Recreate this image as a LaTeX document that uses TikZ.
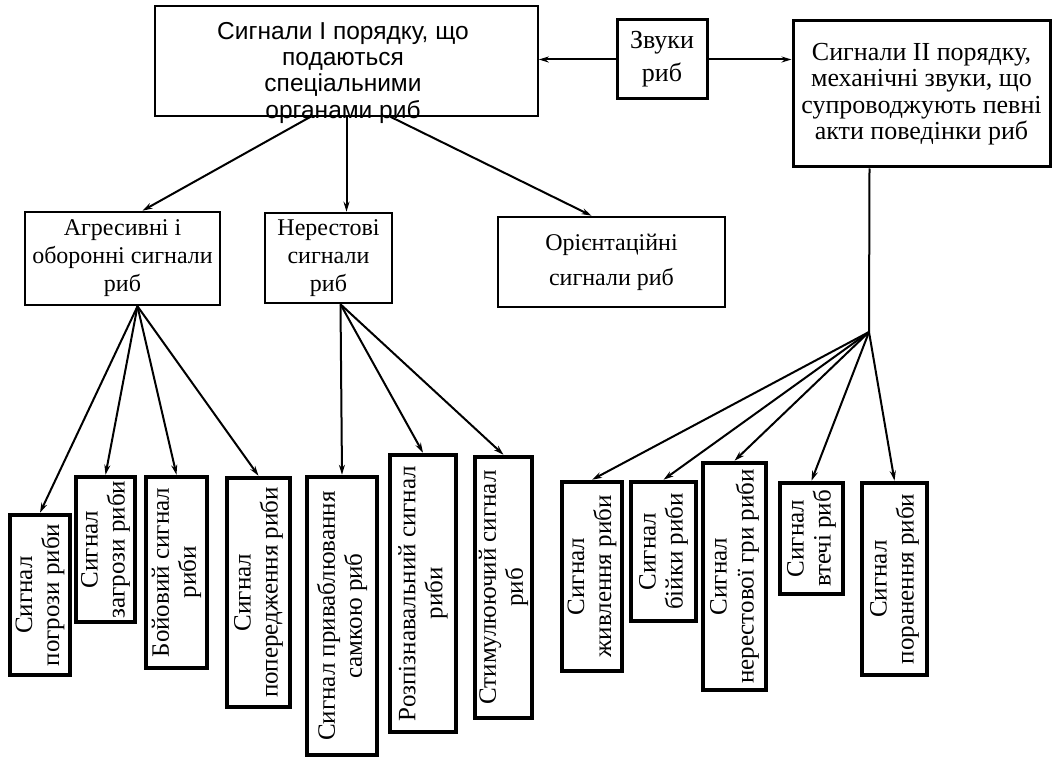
\documentclass[tikz,border=0pt]{standalone}
\usepackage{fontspec}
\usetikzlibrary{arrows.meta,calc}
\newfontfamily\typefont{Liberation Serif}
\newfontfamily\headfont{Liberation Sans}

\tikzset{
  thinbox/.style={draw, line width=1.6pt, inner sep=0pt},
  midbox/.style={draw, line width=2.6pt, inner sep=0pt, align=center,
    font=\typefont\fontsize{24}{28}\selectfont},
  sigbox/.style={draw, line width=4.5pt, inner sep=0pt, rotate=90, align=center,
    font=\typefont\fontsize{25}{27}\selectfont},
  link/.style={line width=2pt, -{Stealth[length=10pt,width=6pt]}},
}

\begin{document}
\begin{tikzpicture}[x=1pt,y=1pt,yscale=-1,xscale=1]
  \useasboundingbox (0,0) rectangle (1054,759);

  % top row
  \node[font=\headfont\fontsize{24.5}{26.3}\selectfont, align=center, inner sep=0pt, anchor=north] (toptext) at (343,22)
    {Сигнали I порядку, що\\подаються\\спеціальними\\органами риб};
  \node[thinbox, minimum width=383, minimum height=110] (top) at (346.5,61) {};
  \node[midbox, line width=3pt, minimum width=90, minimum height=79, font=\typefont\fontsize{26}{33}\selectfont] (zv) at (662,59.5) {Звуки\\риб};
  \node[midbox, line width=3pt, minimum width=257, minimum height=146, font=\typefont\fontsize{26}{26.5}\selectfont] (two) at (921.5,94)
    {Сигнали II порядку,\\механічні звуки, що\\супроводжують певні\\акти поведінки риб};

  \draw[link] (zv.west) -- (zv.west -| top.east);
  \draw[link] (zv.east) -- (zv.east -| two.west);

  % middle row
  \node[midbox, minimum width=195, minimum height=93] (agr) at (122.5,258.5) {Агресивні і\\оборонні сигнали\\риб};
  \node[midbox, minimum width=127, minimum height=90] (ner) at (328.5,258) {Нерестові\\сигнали\\риб};
  \node[midbox, minimum width=227, minimum height=90, font=\typefont\fontsize{24}{35}\selectfont] (ori) at (611.5,262) {Орієнтаційні\\сигнали риб};

  \draw[link] ($(top.south)+(-36,0)$) -- ($(agr.north)+(20,0)$);
  \draw[link] (top.south) -- (top.south |- ner.north);
  \draw[link] ($(top.south)+(44,0)$) -- ($(ori.north)+(-20,0)$);

  % bottom row, left
  \node[sigbox, minimum width=160, minimum height=60] (pogr) at (40,595) {Сигнал\\погрози риби};
  \node[sigbox, minimum width=145, minimum height=59] (zagr) at (105.5,549.5) {Сигнал\\загрози риби};
  \node[sigbox, minimum width=191, minimum height=61] (boy) at (176.5,572.5) {Бойовий сигнал\\риби};
  \node[sigbox, minimum width=229, minimum height=63] (pope) at (258.5,592.5) {Сигнал\\попередження риби};
  \node[sigbox, minimum width=278, minimum height=70] (pryv) at (342,616) {Сигнал приваблювання\\самкою риб};
  \node[sigbox, minimum width=277, minimum height=66] (rozp) at (423,593.5) {Розпізнавальний сигнал\\риби};
  \node[sigbox, minimum width=261, minimum height=57] (stym) at (503.5,587.5) {Стимулюючий сигнал\\риб};

  \coordinate (af) at ($(agr.south)+(15,0)$);
  \foreach \t in {pogr,zagr,boy,pope}
    \draw[link] (af) -- (\t.east);
  \coordinate (nf) at ($(ner.south)+(12,0)$);
  \foreach \t in {pryv,rozp,stym}
    \draw[link] (nf) -- (\t.east);

  % bottom row, right
  \node[sigbox, minimum width=189, minimum height=60] (zhyv) at (592,576.5) {Сигнал\\живлення риби};
  \node[sigbox, minimum width=139, minimum height=65] (biyk) at (663.5,551.5) {Сигнал\\бійки риби};
  \node[sigbox, minimum width=227, minimum height=63] (nerg) at (734.5,576.5) {Сигнал\\нерестової гри риби};
  \node[sigbox, minimum width=111, minimum height=63] (vtech) at (811.5,538.5) {Сигнал\\втечі риб};
  \node[sigbox, minimum width=192, minimum height=65] (poran) at (894.5,579) {Сигнал\\поранення риби};

  \coordinate (br) at (869,332);
  \draw[line width=2pt] ($(two.south)+(-52,0)$) -- (br);
  \foreach \t in {zhyv,biyk,nerg,vtech,poran}
    \draw[link] (br) -- (\t.east);
\end{tikzpicture}
\end{document}
